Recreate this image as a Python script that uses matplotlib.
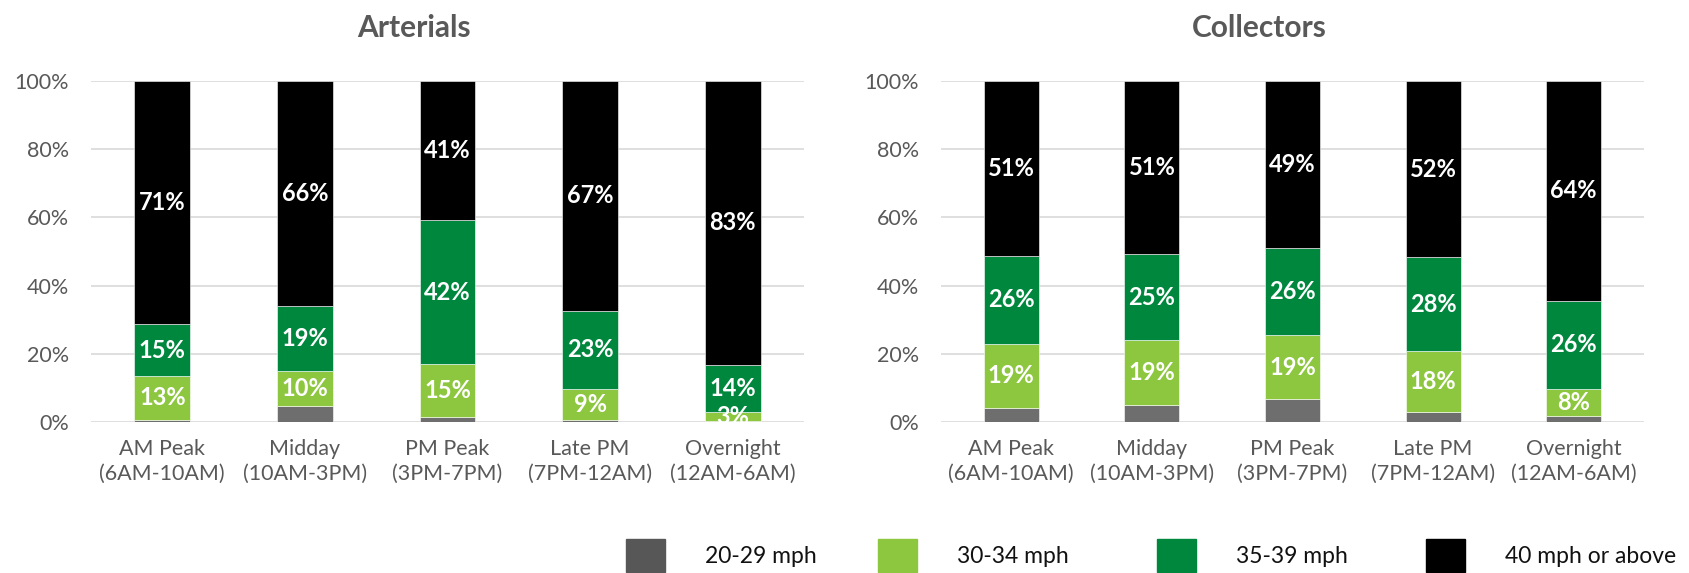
import numpy as np
import matplotlib
matplotlib.use("Agg")
import matplotlib.pyplot as plt
from matplotlib.ticker import FuncFormatter

plt.rcParams['font.family'] = ['Lato', 'DejaVu Sans']

# time periods on the x axis
periods = ['AM Peak\n(6AM-10AM)', 'Midday\n(10AM-3PM)', 'PM Peak\n(3PM-7PM)',
           'Late PM\n(7PM-12AM)', 'Overnight\n(12AM-6AM)']
speed_bins = ['20-29 mph', '30-34 mph', '35-39 mph', '40 mph or above']
bin_colors = ['#6e6e6e', '#8dc63f', '#00873e', '#000000']
legend_colors = ['#575757', '#8dc63f', '#00873e', '#000000']

# share of travel by speed bin (%)
art_20_29 = [0.5, 4.8, 1.5, 0.5, 0.2]
art_30_34 = [13.1, 10.1, 15.4, 9.3, 2.6]
art_35_39 = [15.0, 19.1, 42.2, 22.8, 14.0]
art_40_up = [71.4, 66.0, 40.9, 67.4, 83.2]

col_20_29 = [4.0, 4.9, 6.6, 3.0, 1.7]
col_30_34 = [19.0, 19.1, 18.9, 17.7, 8.0]
col_35_39 = [25.8, 25.2, 25.6, 27.6, 25.8]
col_40_up = [51.2, 50.8, 48.9, 51.7, 64.5]

W, H = 1690, 573
fig = plt.figure(figsize=(W / 100, H / 100), dpi=100)

# axes boxes in pixels: left, top, right, bottom
boxes = [(91, 81, 804, 422), (941, 81, 1644, 422)]
panels = [('Arterials', [art_20_29, art_30_34, art_35_39, art_40_up]),
          ('Collectors', [col_20_29, col_30_34, col_35_39, col_40_up])]

grey_txt = '#595959'
for (l, t, r, b), (title, series) in zip(boxes, panels):
    ax = fig.add_axes([l / W, 1 - b / H, (r - l) / W, (b - t) / H])
    x = np.arange(len(periods))
    bottom = np.zeros(len(periods))
    for i, vals in enumerate(series):
        vals = np.array(vals)
        ax.bar(x, vals, 0.39, bottom=bottom, color=bin_colors[i],
               edgecolor='white', linewidth=0.4, zorder=3)
        if i > 0:
            for xi, v, b0 in zip(x, vals, bottom):
                ax.text(xi, b0 + v / 2, f'{v:.0f}%', ha='center', va='center',
                        color='white', fontsize=17, fontweight='bold',
                        zorder=4, clip_on=True)
        bottom += vals

    ax.set_xlim(-0.5, len(periods) - 0.5)
    ax.set_ylim(0, 100)
    ax.set_yticks(np.arange(0, 101, 20))
    ax.yaxis.set_major_formatter(FuncFormatter(lambda v, p: f'{v:.0f}%'))
    ax.set_xticks(x)
    ax.set_xticklabels(periods, linespacing=1.3)
    ax.tick_params(axis='both', length=0, labelsize=15.5, labelcolor=grey_txt)
    ax.tick_params(axis='y', pad=16)
    ax.tick_params(axis='x', pad=12)
    ax.grid(axis='y', color='#d9d9d9', linewidth=1.2, zorder=0)
    for s in ax.spines.values():
        s.set_visible(False)
    ax.text(0.453, 1.128, title, transform=ax.transAxes, ha='center',
            va='baseline', fontsize=21.5, fontweight='bold', color=grey_txt)

# one legend per entry so each swatch sits at its own slot
legend_x = [626, 878, 1157, 1426]
fs = 16.5
px = fs * 100 / 72
for lx, name, c in zip(legend_x, speed_bins, legend_colors):
    leg = fig.legend([plt.Rectangle((0, 0), 1, 1, color=c)], [name],
                     loc='upper left', bbox_to_anchor=(lx / W, 1 - 539 / H),
                     frameon=False, fontsize=fs, borderpad=0, borderaxespad=0,
                     handlelength=39 / px, handleheight=42 / px,
                     handletextpad=40 / px)
    for txt in leg.get_texts():
        txt.set_color('#111111')

fig.savefig('out.png', dpi=100)
